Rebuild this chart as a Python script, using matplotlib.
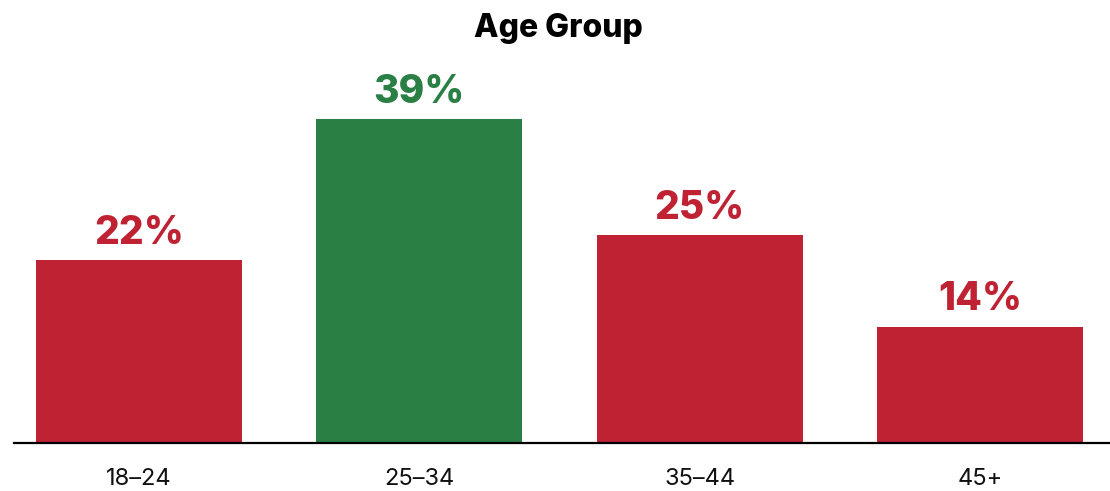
import matplotlib
matplotlib.use("Agg")
import matplotlib.pyplot as plt
import numpy as np

# data
groups = ["18–24", "25–34", "35–44", "45+"]
shares = [22, 39, 25, 14]
highlight = "25–34"

red = "#BE2233"
green = "#2A7F45"

plt.rcParams['font.family'] = ['Inter', 'DejaVu Sans']

fig = plt.figure(figsize=(11.10, 4.91), dpi=100)
ax = fig.add_axes([14/1110, 48/491, 1 - 14/1110, 383/491])

x = np.arange(len(groups))
colors = [green if g == highlight else red for g in groups]
bars = ax.bar(x, shares, width=0.735, color=colors)

for b, v, c in zip(bars, shares, colors):
    ax.text(b.get_x() + b.get_width()/2, v + 1.0, f"{v}%", ha='center', va='bottom',
            fontsize=28, fontweight='heavy', color=c)

ax.set_xlim(-0.445, 3.463)
ax.set_ylim(0, 46.1)
ax.set_xticks(x)
ax.set_xticklabels(groups, fontsize=17, color='#111111')
ax.tick_params(axis='x', length=0, pad=18)
ax.set_yticks([])
for s in ['top', 'right', 'left']:
    ax.spines[s].set_visible(False)
ax.spines['bottom'].set_linewidth(1.6)
ax.spines['bottom'].set_color('black')

fig.text(0.503, 1 - 28/491, "Age Group", ha='center', va='center',
         fontsize=23, fontweight='heavy', color='black')

fig.savefig("out.png", dpi=100)
